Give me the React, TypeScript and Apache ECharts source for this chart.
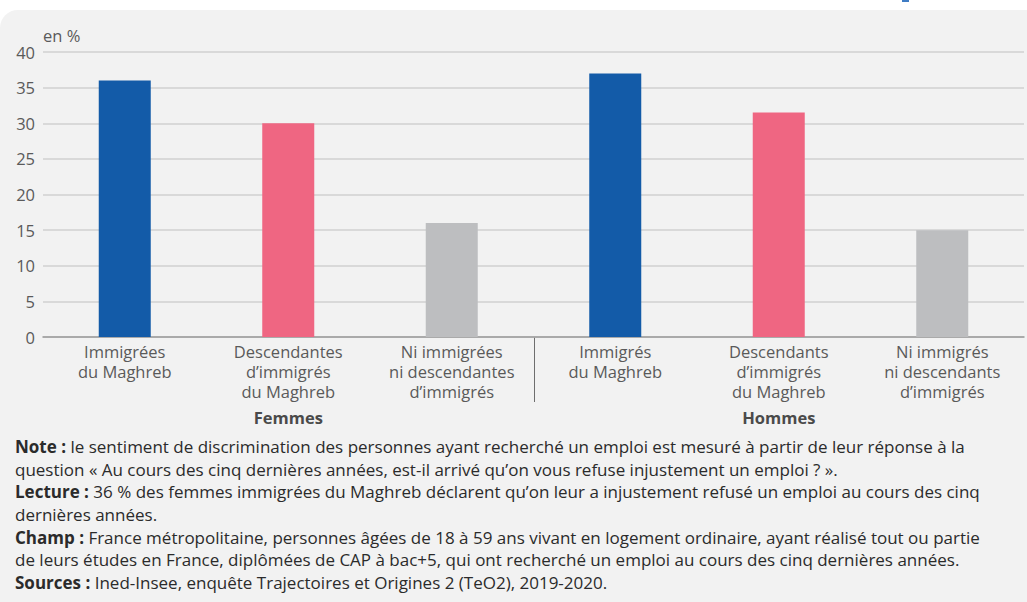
import React, { useEffect, useRef } from "react";
import * as echarts from "echarts";

// Share of job seekers reporting discrimination, by origin and sex (en %)
const categories = [
  "Immigrées\ndu Maghreb",
  "Descendantes\nd’immigrés\ndu Maghreb",
  "Ni immigrées\nni descendantes\nd’immigrés",
  "Immigrés\ndu Maghreb",
  "Descendants\nd’immigrés\ndu Maghreb",
  "Ni immigrés\nni descendants\nd’immigrés",
];
const groups = ["Femmes", "Hommes"];
const values = [36, 30, 16, 37, 31.5, 15];
const yTicks = { min: 0, max: 40, interval: 5 };
const palette = ["#135ba8", "#ef6682", "#bdbec0"];

const noteLines = [
  "{b|Note :} le sentiment de discrimination des personnes ayant recherché un emploi est mesuré à partir de leur réponse à la",
  "question « Au cours des cinq dernières années, est-il arrivé qu’on vous refuse injustement un emploi ? ».",
  "{b|Lecture :} 36 % des femmes immigrées du Maghreb déclarent qu’on leur a injustement refusé un emploi au cours des cinq",
  "dernières années.",
  "{b|Champ :} France métropolitaine, personnes âgées de 18 à 59 ans vivant en logement ordinaire, ayant réalisé tout ou partie",
  "de leurs études en France, diplômées de CAP à bac+5, qui ont recherché un emploi au cours des cinq dernières années.",
  "{b|Sources :} Ined-Insee, enquête Trajectoires et Origines 2 (TeO2), 2019-2020.",
];

const FONT = "'Open Sans', 'Noto Sans', sans-serif";
const LABEL = "#5a5a5a";
const LABEL_SIZE = 16.5;
const NOTE_SIZE = 17;

export default function App() {
  const ref = useRef<HTMLDivElement>(null);

  useEffect(() => {
    if (!ref.current) return;
    const chart = echarts.init(ref.current, undefined, { renderer: "svg" });
    const baseGraphics: any[] = [
      {
        type: "rect",
        z: -10,
        shape: { x: 0, y: 10, width: 1027, height: 592, r: [18, 0, 0, 0] },
        style: { fill: "#f2f2f2" },
      },
      {
        type: "rect",
        z: -10,
        shape: { x: 902, y: 0, width: 7, height: 2 },
        style: { fill: "#3f7cc4" },
      },
      {
        type: "text",
        left: 15,
        top: 435,
        style: {
          text: noteLines.join("\n"),
          fontFamily: FONT,
          fontSize: NOTE_SIZE,
          lineHeight: 22.7,
          fill: "#2b2b2b",
          rich: {
            b: {
              fontFamily: FONT,
              fontSize: NOTE_SIZE,
              lineHeight: 22.7,
              fontWeight: "bold",
              fill: "#2b2b2b",
            },
          },
        },
      },
    ];
    chart.setOption({
      animation: false,
      textStyle: { fontFamily: FONT },
      grid: { left: 43, right: 3, top: 52, bottom: 265, containLabel: false },
      graphic: baseGraphics,
      xAxis: [
        {
          type: "category",
          data: categories,
          position: "bottom",
          axisLine: { show: true, lineStyle: { color: "#9a9a9a", width: 1.5 } },
          axisTick: { show: false },
          axisLabel: {
            interval: 0,
            margin: 5,
            color: LABEL,
            fontFamily: FONT,
            fontSize: LABEL_SIZE,
            lineHeight: 19.8,
          },
        },
        {
          type: "category",
          data: groups,
          position: "bottom",
          axisLine: { show: false },
          axisTick: { show: false },
          axisLabel: {
            interval: 0,
            margin: 72,
            color: "#4a4a4a",
            fontFamily: FONT,
            fontSize: LABEL_SIZE,
            fontWeight: "bold",
          },
        },
      ],
      yAxis: {
        type: "value",
        min: yTicks.min,
        max: yTicks.max,
        interval: yTicks.interval,
        name: "en %",
        nameLocation: "end",
        nameGap: 8,
        nameTextStyle: {
          align: "left",
          color: LABEL,
          fontFamily: FONT,
          fontSize: LABEL_SIZE,
        },
        axisLine: { show: false },
        axisTick: { show: false },
        axisLabel: { margin: 8, color: LABEL, fontFamily: FONT, fontSize: LABEL_SIZE },
        splitLine: { lineStyle: { color: "#d0d0d0", width: 1.5 } },
      },
      series: [
        {
          type: "bar",
          xAxisIndex: 0,
          barWidth: 52,
          data: values.map((v, i) => ({
            value: v,
            itemStyle: { color: palette[i % 3] },
          })),
        },
      ],
    });

    // Separator between the two groups: midway between the last "Femmes"
    // category and the first "Hommes" category, dropped below the axis.
    const per = categories.length / groups.length;
    const a = chart.convertToPixel({ xAxisIndex: 0, yAxisIndex: 0 }, [per - 1, 0]) as number[];
    const b = chart.convertToPixel({ xAxisIndex: 0, yAxisIndex: 0 }, [per, 0]) as number[];
    const sx = Math.round((a[0] + b[0]) / 2) + 0.5;
    chart.setOption({
      graphic: [
        ...baseGraphics,
        {
          type: "line",
          shape: { x1: sx, y1: a[1], x2: sx, y2: a[1] + 65 },
          style: { stroke: "#6e6e6e", lineWidth: 1 },
        },
      ],
    });
    return () => chart.dispose();
  }, []);

  return (
    <div
      style={{
        position: "absolute",
        left: 0,
        top: 0,
        width: 1027,
        height: 602,
        background: "#ffffff",
      }}
    >
      <div ref={ref} style={{ width: 1027, height: 602 }} />
    </div>
  );
}
